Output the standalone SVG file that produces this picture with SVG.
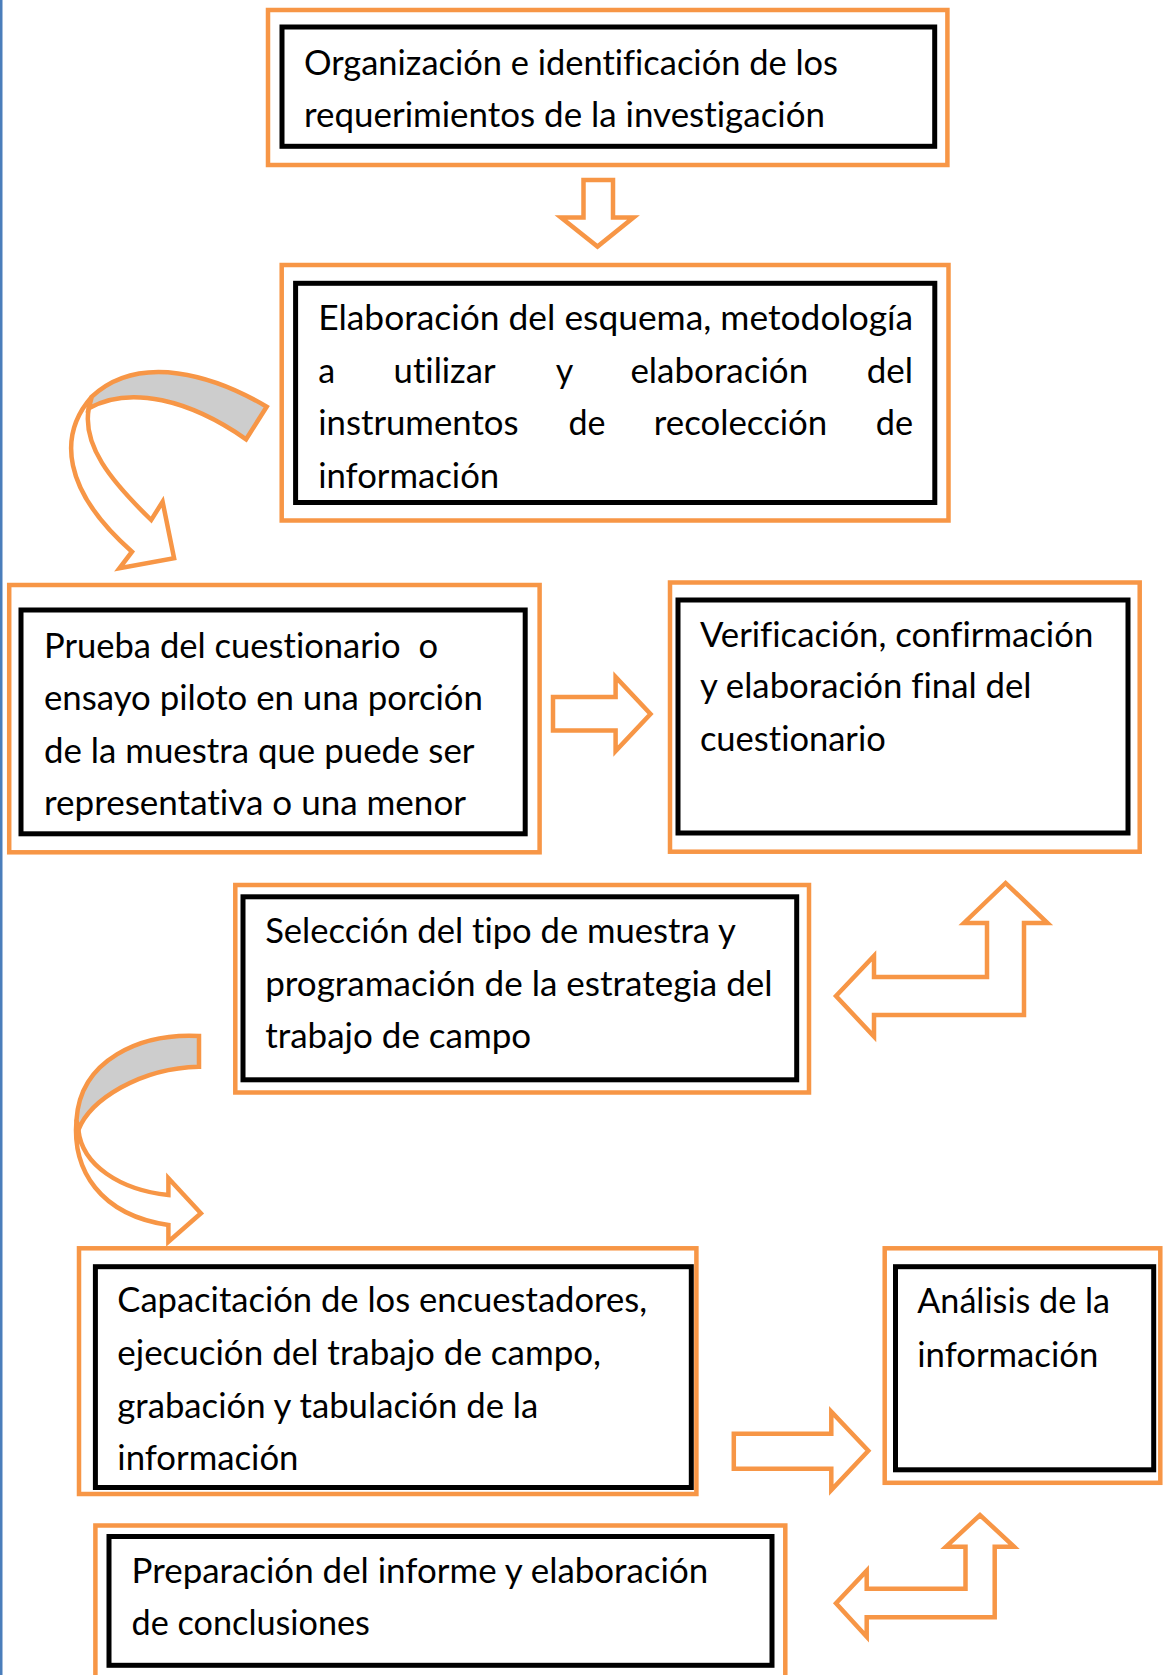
<svg xmlns="http://www.w3.org/2000/svg" width="1166" height="1675" viewBox="0 0 1166 1675">
<style>
.o{fill:none;stroke:#F79646;stroke-width:4.5}
.b{fill:#fff;stroke:#000;stroke-width:5}
.t{font-family:Lato,"Open Sans","Liberation Sans",sans-serif;font-size:34px;fill:#000;font-variant-ligatures:none;font-feature-settings:"liga" 0,"clig" 0,"dlig" 0}
.a{fill:#fff;stroke:#F79646;stroke-width:4.5;stroke-linejoin:miter}
.g{fill:#CDCDCD;stroke:#F79646;stroke-width:4.5;stroke-linejoin:miter}
</style>
<rect x="0" y="0" width="1166" height="1675" fill="#fff"/>
<rect x="0" y="0" width="2.5" height="1675" fill="#4A7EBB"/>

<g id="n1">
<rect class="o" x="268" y="10" width="679.4" height="155"/>
<rect class="b" x="282" y="27" width="652.7" height="119.3"/>
<text class="t" x="304" y="75" textLength="534" lengthAdjust="spacingAndGlyphs">Organización e identificación de los</text>
<text class="t" x="304" y="126.7" textLength="521" lengthAdjust="spacingAndGlyphs">requerimientos de la investigación</text>
</g>

<g id="n2">
<rect class="o" x="281.7" y="265" width="666.8" height="255.5"/>
<rect class="b" x="295.6" y="283.3" width="639.2" height="219.2"/>
<text class="t" x="318.2" y="330" textLength="595" lengthAdjust="spacingAndGlyphs">Elaboración del esquema, metodología</text>
<text class="t" y="383.3"><tspan x="318.2">a</tspan><tspan x="393.6" textLength="102" lengthAdjust="spacingAndGlyphs">utilizar</tspan><tspan x="555.8">y</tspan><tspan x="630.4" textLength="177.8" lengthAdjust="spacingAndGlyphs">elaboración</tspan><tspan x="866.7" textLength="46.4" lengthAdjust="spacingAndGlyphs">del</tspan></text>
<text class="t" y="435"><tspan x="318.2" textLength="200.3" lengthAdjust="spacingAndGlyphs">instrumentos</tspan><tspan x="568.4" textLength="37" lengthAdjust="spacingAndGlyphs">de</tspan><tspan x="653.8" textLength="173.5" lengthAdjust="spacingAndGlyphs">recolección</tspan><tspan x="875.8" textLength="37.3" lengthAdjust="spacingAndGlyphs">de</tspan></text>
<text class="t" x="318.2" y="488.3" textLength="181" lengthAdjust="spacingAndGlyphs">información</text>
</g>

<g id="n3">
<rect class="o" x="9.2" y="585" width="530.4" height="267.3"/>
<rect class="b" x="21" y="610" width="504.2" height="223.8"/>
<text class="t" x="44" y="657.7" xml:space="preserve" textLength="394" lengthAdjust="spacingAndGlyphs">Prueba del cuestionario  o</text>
<text class="t" x="44" y="710" textLength="439" lengthAdjust="spacingAndGlyphs">ensayo piloto en una porción</text>
<text class="t" x="44" y="762.7" textLength="430.5" lengthAdjust="spacingAndGlyphs">de la muestra que puede ser</text>
<text class="t" x="44" y="815" textLength="422" lengthAdjust="spacingAndGlyphs">representativa o una menor</text>
</g>

<g id="n4">
<rect class="o" x="670" y="582.5" width="469.7" height="269.2"/>
<rect class="b" x="678" y="600" width="450" height="233"/>
<text class="t" x="699.9" y="646.7" textLength="393.4" lengthAdjust="spacingAndGlyphs">Verificación, confirmación</text>
<text class="t" x="699.9" y="698.3" textLength="331.6" lengthAdjust="spacingAndGlyphs">y elaboración final del</text>
<text class="t" x="699.9" y="750.7" textLength="185.9" lengthAdjust="spacingAndGlyphs">cuestionario</text>
</g>

<g id="n5">
<rect class="o" x="235.3" y="885" width="573.7" height="207.5"/>
<rect class="b" x="243" y="896.8" width="553.7" height="183"/>
<text class="t" x="265.2" y="943.3" textLength="470.6" lengthAdjust="spacingAndGlyphs">Selección del tipo de muestra y</text>
<text class="t" x="265.2" y="996" textLength="507.4" lengthAdjust="spacingAndGlyphs">programación de la estrategia del</text>
<text class="t" x="265.2" y="1048.3" textLength="266" lengthAdjust="spacingAndGlyphs">trabajo de campo</text>
</g>

<g id="n6">
<rect class="o" x="79" y="1248.3" width="617.4" height="245.7"/>
<rect class="b" x="95.4" y="1266.7" width="595.9" height="220.8"/>
<text class="t" x="117.3" y="1311.7" textLength="529.7" lengthAdjust="spacingAndGlyphs">Capacitación de los encuestadores,</text>
<text class="t" x="117.3" y="1365" textLength="483.7" lengthAdjust="spacingAndGlyphs">ejecución del trabajo de campo,</text>
<text class="t" x="117.3" y="1418.3" textLength="421" lengthAdjust="spacingAndGlyphs">grabación y tabulación de la</text>
<text class="t" x="117.3" y="1470" textLength="181.2" lengthAdjust="spacingAndGlyphs">información</text>
</g>

<g id="n7">
<rect class="o" x="95.4" y="1525.5" width="689.9" height="175"/>
<rect class="b" x="109" y="1536.5" width="663" height="128.8"/>
<text class="t" x="131.6" y="1583.3" textLength="576.6" lengthAdjust="spacingAndGlyphs">Preparación del informe y elaboración</text>
<text class="t" x="131.6" y="1635" textLength="238.3" lengthAdjust="spacingAndGlyphs">de conclusiones</text>
</g>

<g id="n8">
<rect class="o" x="884.7" y="1248.3" width="275.6" height="234.5"/>
<rect class="b" x="895.5" y="1266.7" width="258.2" height="203.1"/>
<text class="t" x="917.3" y="1313.3" textLength="192.7" lengthAdjust="spacingAndGlyphs">Análisis de la</text>
<text class="t" x="917.3" y="1366.7" textLength="181" lengthAdjust="spacingAndGlyphs">información</text>
</g>

<g id="connectors">
<polygon class="a" points="583.5,180 613,180 613,217.5 633.5,217.5 597.5,246.5 561,217.5 583.5,217.5"/>
<path class="a" d="M91.8,396.7 C58,435 62,490 132,551.7 L119.4,568.3 L174.1,558.3 L162.6,501.7 L151.2,520 C110,480 82,445 88.8,408.3 Z"/>
<path class="g" d="M266.7,406.7 C215,376 140,352 91.8,396.7 L88.8,408.3 C130,385 190,400 246.1,439.3 Z"/>
<polygon class="a" points="553,697 615.6,697 615.6,677 650.5,714 615.6,751 615.6,730.5 553,730.5"/>
<polygon class="a" points="836,996 874,956 874,977 987,977 987,923 964,923 1005.6,883 1047.5,923 1024,923 1024,1015 874,1015 874,1036.5"/>
<path class="a" d="M76.5,1120 C72,1170 100,1215 168.4,1225 L168.4,1241.7 L200.9,1213.3 L168.4,1178.3 L168.4,1195 C120,1190 82,1165 78.4,1130 Z"/>
<path class="g" d="M199,1036 C140,1033 80,1060 76.5,1120 L78.4,1130 C90,1100 140,1068 199,1066.7 Z"/>
<polygon class="a" points="733.8,1433.7 831.3,1433.7 831.3,1411.7 868.3,1450.7 831.3,1490 831.3,1468.7 733.8,1468.7"/>
<polygon class="a" points="836,1603.3 866.7,1570.7 866.7,1588.8 965.5,1588.8 965.5,1546.7 946,1546.7 980,1515 1014,1546.7 994.7,1546.7 994.7,1617.2 866.7,1617.2 866.7,1636.7"/>
</g>
</svg>
